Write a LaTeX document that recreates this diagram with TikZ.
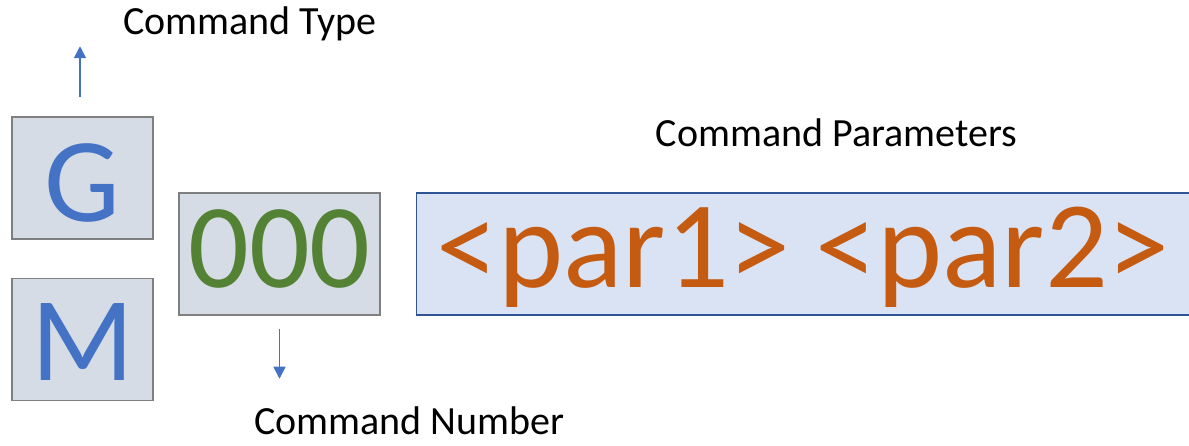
\documentclass[tikz,border=0pt]{standalone}
\usepackage{fontspec}
\setmainfont{Carlito}
\usepackage{tikz}
\usetikzlibrary{arrows.meta,positioning}
\definecolor{CodeBlue}{HTML}{4472C4}
\definecolor{CodeGreen}{HTML}{548235}
\definecolor{CodeOrange}{HTML}{C55A11}
\definecolor{CellFill}{HTML}{D6DCE5}
\definecolor{CellEdge}{HTML}{7F7F7F}
\definecolor{ParFill}{HTML}{DAE3F3}
\definecolor{ParEdge}{HTML}{2F5597}

\begin{document}
\begin{tikzpicture}[
			x=1pt,y=1pt,
			node distance=38pt and 35pt,
			cell/.style={draw=CellEdge,line width=1.5pt,fill=CellFill,inner sep=0pt,minimum height=122pt,text depth=0pt,font=\fontsize{120}{120}\selectfont},
			parcell/.style={cell,draw=ParEdge,fill=ParFill,inner xsep=20pt,text width=750pt,align=left,font=\fontsize{124}{124}\selectfont},
			caption/.style={font=\fontsize{40}{48}\selectfont,inner sep=0pt},
			arr/.style={-{Triangle[length=12pt,width=12pt]},line width=1.5pt,color=CodeBlue}
		]
		\useasboundingbox (0,0) rectangle (1189,446);
		\clip (0,0) rectangle (1189,446);
		% letter, number and parameter fields
		\node[cell,minimum width=141pt,text height=88pt,text=CodeBlue] (gcode) at (82.5,268) {G};
		\node[cell,minimum width=141pt,text height=83pt,text=CodeBlue,below=of gcode] (mcode) {M};
		\node[cell,minimum width=201pt,text height=68pt,text=CodeGreen] (num) at (279.5,192) {000};
		\node[parcell,text height=68pt,text=CodeOrange,right=of num] (params) {<par1>\hspace{25pt}<par2>};
		% captions
		\node[caption,anchor=base west] (typelabel) at (123,411) {Command Type};
		\node[caption,anchor=base] (parlabel) at (836.5,299) {Command Parameters};
		\node[caption,anchor=base west] (numlabel) at (254,11) {Command Number};
		\draw[arr] ([shift={(-2.5,19)}]gcode.north)--++(0,51);
		\draw[arr] ([yshift=-13pt]num.south)--++(0,-50);
	\end{tikzpicture}
\end{document}
